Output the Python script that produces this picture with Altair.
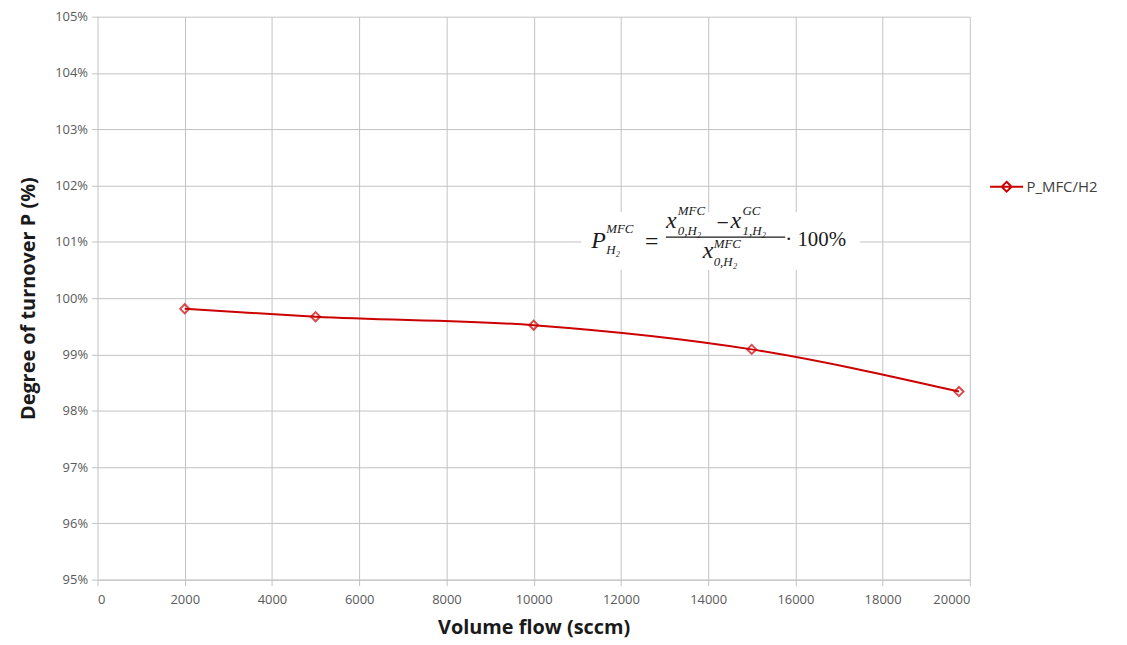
import altair as alt
import pandas as pd

# Data
flow = [2000, 5000, 10000, 15000, 19750]
turnover = [99.81, 99.67, 99.52, 99.09, 98.34]
series = ["P_MFC/H2"] * 5

x_ticks = list(range(0, 20001, 2000))
y_ticks = list(range(95, 106))

RED = "#cc0000"
df = pd.DataFrame({"flow": flow, "P": turnover, "series": series})

# formula anchor (centre of the fraction bar) in data coordinates
anchor = pd.DataFrame({"flow": [14400], "P": [101.085]})

xs = alt.Scale(domain=[0, 20000], nice=False, zero=False)
ys = alt.Scale(domain=[95, 105], nice=False, zero=False)

x_enc = alt.X("flow:Q", scale=xs, title="Volume flow (sccm)",
              axis=alt.Axis(values=x_ticks, format="d", grid=True))
y_enc = alt.Y("P:Q", scale=ys, title="Degree of turnover P (%)",
              axis=alt.Axis(values=y_ticks, labelExpr="datum.value + '%'", grid=True))
color = alt.Color("series:N", scale=alt.Scale(domain=["P_MFC/H2"], range=[RED]),
                  legend=alt.Legend(title=None, orient="none", legendX=896, legendY=153,
                                    symbolType="M-1,0H1M0,-0.3L0.3,0L0,0.3L-0.3,0Z",
                                    symbolSize=1100, symbolStrokeWidth=2,
                                    symbolFillColor="transparent",
                                    labelFont="Open Sans", labelFontSize=15,
                                    labelColor="#404040", labelOffset=2))

line = alt.Chart(df).mark_line(interpolate="monotone", strokeWidth=2).encode(
    x=x_enc, y=y_enc, color=color)
pts = alt.Chart(df).mark_point(shape="diamond", filled=False, size=85, strokeWidth=2).encode(
    x="flow:Q", y="P:Q", color=alt.Color("series:N", legend=None))

base = alt.Chart(anchor).encode(x="flow:Q", y="P:Q")
bg = base.mark_rect(color="white", xOffset=-145, x2Offset=135, yOffset=-25, y2Offset=33).encode(
    x2="flow:Q", y2="P:Q")

serif = "Liberation Serif"
def t(txt, dx, dy, size, style="italic"):
    return base.mark_text(text=txt, dx=dx, dy=dy, fontSize=size, font=serif,
                          fontStyle=style, align="left", baseline="alphabetic",
                          color="#1a1a1a")

pieces = [
    t("P", -135, 11, 24),
    t("MFC", -120, -4, 13),
    t("H₂", -120, 17, 13),
    t("=", -81, 12, 24, "normal"),
    t("x", -60, -9, 24),
    t("MFC", -48, -22, 13),
    t("0,H₂", -48, -2, 13),
    t("−", -9, -7, 22, "normal"),
    t("x", 5, -9, 24),
    t("GC", 17, -22, 13),
    t("1,H₂", 17, -2, 13),
    t("x", -23, 21, 24),
    t("MFC", -12, 11, 13),
    t("0,H₂", -12, 29, 13),
    t("· 100%", 60, 9, 21, "normal"),
]
bar = base.mark_rule(color="#1a1a1a", strokeWidth=1.3, xOffset=-60, x2Offset=60).encode(x2="flow:Q")

chart = alt.layer(line, pts, bg, bar, *pieces).resolve_scale(color="shared").properties(
    width=877, height=566,
    autosize=alt.AutoSizeParams(type="none"),
    padding={"left": 90, "top": 7, "right": 150, "bottom": 63},
).configure_view(stroke=None).configure_axis(
    gridColor="#c3c3c3", gridWidth=1, domainColor="#c3c3c3", tickColor="#c3c3c3",
    tickSize=6, labelFont="Open Sans", labelFontSize=13, labelColor="#595959",
    titleFont="Open Sans", titleFontSize=20, titleFontWeight="bold", titleColor="#1a1a1a",
    labelPadding=4,
).configure_axisX(titlePadding=11, labelPadding=8).configure_axisY(titlePadding=16, domain=False)

chart.save("out.html", embed_options={"renderer": "svg", "actions": False})
